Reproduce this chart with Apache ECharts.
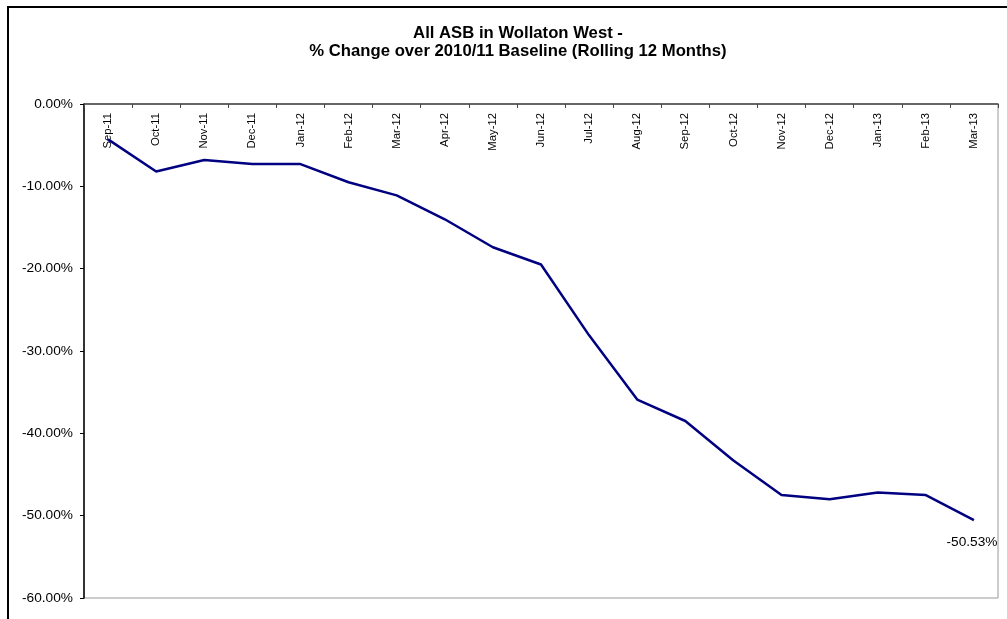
<!DOCTYPE html>
<html>
<head>
<meta charset="utf-8">
<script src="https://cdn.jsdelivr.net/npm/echarts@6/dist/echarts.min.js"></script>
<style>
html,body{margin:0;padding:0;background:#fff;}
#c{width:1007px;height:619px;}
</style>
</head>
<body>
<div id="c"></div>
<script>
const categories = ['Sep-11','Oct-11','Nov-11','Dec-11','Jan-12','Feb-12','Mar-12','Apr-12','May-12','Jun-12','Jul-12','Aug-12','Sep-12','Oct-12','Nov-12','Dec-12','Jan-13','Feb-13','Mar-13'];
const values = [-4.3,-8.2,-6.8,-7.3,-7.3,-9.5,-11.1,-14.0,-17.4,-19.5,-28.1,-35.9,-38.5,-43.3,-47.5,-48.0,-47.2,-47.5,-50.53];
const titleLines = ['All ASB in Wollaton West -','% Change over 2010/11 Baseline (Rolling 12 Months)'];
const yMin = -60, yMax = 0, yStep = 10;

const font = '"Liberation Sans", Arial, sans-serif';
const chart = echarts.init(document.getElementById('c'));
const seriesData = values.map((v, i) => i === values.length - 1
  ? {value: v, label: {show: true, position: 'bottom', distance: 15, offset: [-2, 0],
      formatter: (p) => p.value.toFixed(2) + '%', color: '#000', fontSize: 13.7, fontFamily: font}}
  : v);

chart.setOption({
  backgroundColor: '#fff',
  animation: false,
  title: {
    text: titleLines.join('\n'),
    left: 513, top: 19, textAlign: 'center',
    textStyle: {fontFamily: font, fontSize: 16.7, fontWeight: 'bold', color: '#000', lineHeight: 18}
  },
  graphic: [{
    type: 'rect', silent: true, z: 100,
    shape: {x: 8, y: 7, width: 1010, height: 630},
    style: {fill: 'none', stroke: '#000', lineWidth: 2}
  }],
  grid: {left: 84, top: 104, right: 9, bottom: 21, show: true, borderColor: '#999', borderWidth: 1, backgroundColor: '#fff'},
  xAxis: {
    type: 'category', data: categories, position: 'top', boundaryGap: true,
    axisLine: {show: true, lineStyle: {color: '#444', width: 1.5}},
    axisTick: {show: true, inside: true, length: 4, lineStyle: {color: '#444'}},
    axisLabel: {inside: true, rotate: 90, margin: 9, interval: 0, fontFamily: font, fontSize: 11.3, color: '#000'},
    splitLine: {show: false}
  },
  yAxis: {
    type: 'value', min: yMin, max: yMax, interval: yStep,
    axisLine: {show: true, lineStyle: {color: '#000', width: 1.5}},
    axisTick: {show: true, length: 4, lineStyle: {color: '#000'}},
    axisLabel: {margin: 11, fontFamily: font, fontSize: 13.7, color: '#000',
      formatter: (v) => (v === 0 ? '0.00' : v.toFixed(2)) + '%'},
    splitLine: {show: false}
  },
  series: [{
    type: 'line', data: seriesData,
    symbol: 'circle', symbolSize: 0, showSymbol: true,
    lineStyle: {color: '#000080', width: 2.5},
    itemStyle: {color: '#000080'}
  }]
});
</script>
</body>
</html>
